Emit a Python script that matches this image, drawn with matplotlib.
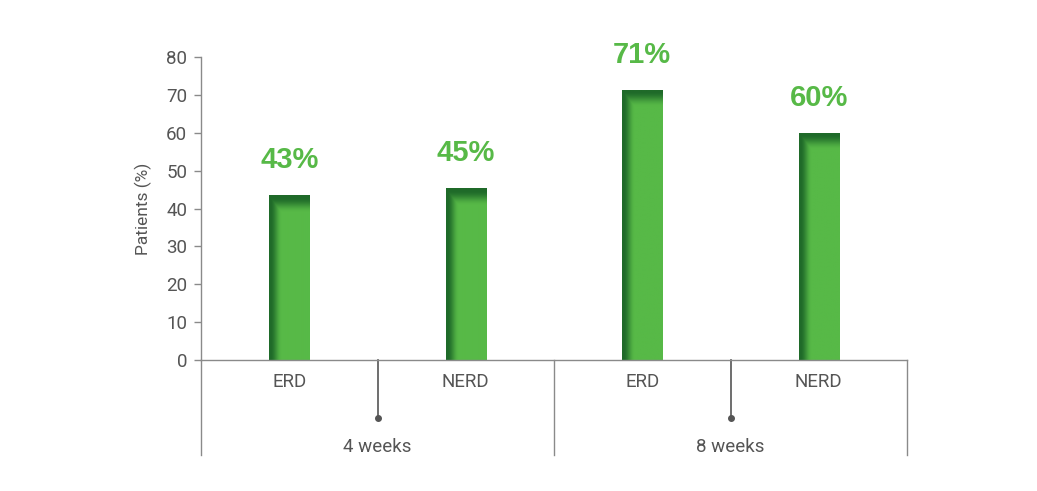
import numpy as np
import matplotlib.pyplot as plt
import matplotlib.colors as mcolors

plt.rcParams['font.family'] = ['Roboto', 'DejaVu Sans']

categories = ['ERD', 'NERD', 'ERD', 'NERD']
groups = ['4 weeks', '8 weeks']
values = [43.5, 45.4, 71.3, 60.0]
value_labels = ['43%', '45%', '71%', '60%']
yticks = [0, 10, 20, 30, 40, 50, 60, 70, 80]

green = np.array(mcolors.to_rgb('#57b947'))
dark = np.array(mcolors.to_rgb('#1f6a29'))
axis_grey = '#8a8a8a'
text_grey = '#555555'


def bar_gradient(w_px, h_px, left_px=11, top_px=15):
    # darker band on the left edge and on top, like the original artwork
    xs = np.arange(w_px)
    ys = np.arange(h_px)
    fx = np.clip(1 - (xs - 1) / left_px, 0, 1)
    fy = np.clip(1 - (ys - 2) / top_px, 0, 1)
    f = np.maximum(fx[None, :], fy[:, None])
    f = f * f * (3 - 2 * f)
    img = green[None, None, :] * (1 - f[..., None]) + dark[None, None, :] * f[..., None]
    return img


fig = plt.figure(figsize=(10.37, 4.91), dpi=100)
ax = fig.add_axes([201 / 1037, 1 - 360 / 491, 706 / 1037, 303 / 491])

x = np.arange(len(categories)) + 0.5
width = 0.227
bars = ax.bar(x, values, width=width, color=green, zorder=2)

px_per_unit_y = 303 / 80
for b in bars:
    h_px = int(round(b.get_height() * px_per_unit_y))
    img = bar_gradient(40, max(h_px, 1))
    im = ax.imshow(img, extent=(b.get_x(), b.get_x() + b.get_width(), 0, b.get_height()),
                   aspect='auto', origin='upper', zorder=3, interpolation='bilinear')
    im.set_clip_path(b)

for xi, v, lab in zip(x, values, value_labels):
    ax.annotate(lab, (xi, v), xytext=(0, 15), textcoords='offset points',
                ha='center', va='bottom', fontsize=21, fontweight='bold',
                family=['Liberation Sans', 'DejaVu Sans'], color='#57b947')

ax.set_xlim(0, 4)
ax.set_ylim(0, 80)
ax.set_yticks(yticks)
ax.set_xticks([])
ax.tick_params(axis='y', direction='out', length=5, width=1, color=axis_grey,
               labelcolor=text_grey, labelsize=13.5, pad=5)
ax.set_ylabel('Patients (%)', color=text_grey, fontsize=12.5, labelpad=10)

for s in ['top', 'right']:
    ax.spines[s].set_visible(False)
for s in ['left', 'bottom']:
    ax.spines[s].set_color(axis_grey)
    ax.spines[s].set_linewidth(1)
ax.spines['bottom'].set_zorder(4)

# extend the left spine and draw group dividers below the axis
ax.plot([0, 0], [0, -25.1], color=axis_grey, lw=1, clip_on=False)
for gx in [2, 4]:
    ax.plot([gx, gx], [0, -25.1], color=axis_grey, lw=1, clip_on=False)
for sx in [1, 3]:
    ax.plot([sx, sx], [0, -15.3], color='#555555', lw=1.2, clip_on=False)
    ax.plot([sx], [-15.3], 'o', color='#555555', ms=4, clip_on=False)

for xi, c in zip(x, categories):
    ax.text(xi, -5.8, c, ha='center', va='center', fontsize=13.5, color=text_grey)
for gi, g in enumerate(groups):
    ax.text(2 * gi + 1, -23, g, ha='center', va='center', fontsize=13.5, color=text_grey)

fig.savefig('out.png', dpi=100)
